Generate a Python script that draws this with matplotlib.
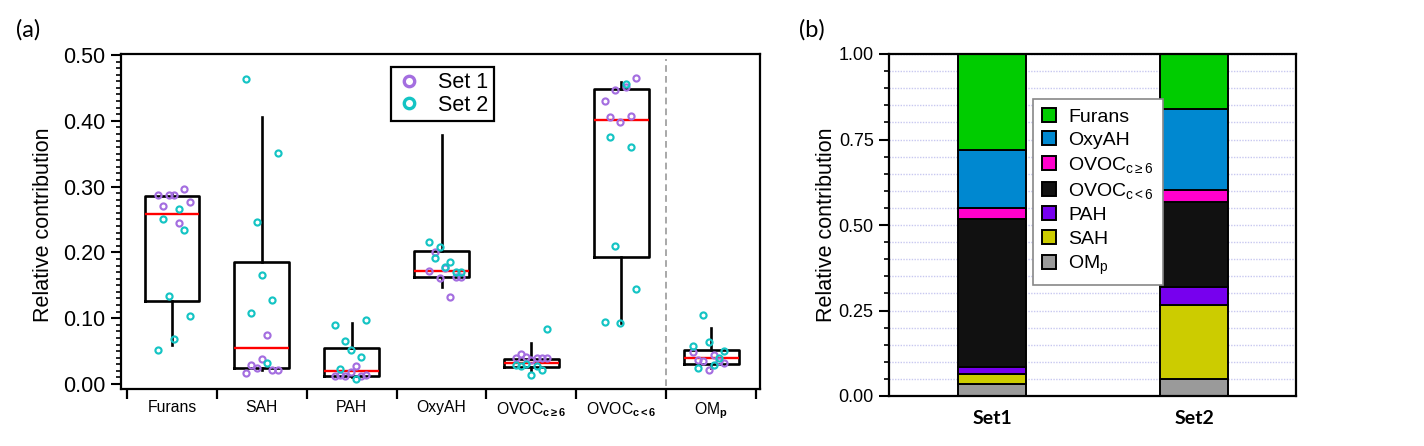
import numpy as np
import matplotlib
matplotlib.use("Agg")
import matplotlib.pyplot as plt
from matplotlib.lines import Line2D
from matplotlib.patches import Patch
from matplotlib import font_manager as fm
from matplotlib.ticker import MultipleLocator, FormatStrFormatter

# ---------------- data: panel (a) ----------------
categories = ['Furans', 'SAH', 'PAH', 'OxyAH', 'OVOC_c>=6', 'OVOC_c<6', 'OMp']
cat_labels = ['Furans', 'SAH', 'PAH', 'OxyAH',
              r'OVOC$_{\mathbf{c\geq6}}$', r'OVOC$_{\mathbf{c<6}}$', r'OM$_{\mathbf{p}}$']

box_q1 = [0.126, 0.0238, 0.0122, 0.1631, 0.0253, 0.1935, 0.0304]
box_median = [0.258, 0.0552, 0.0203, 0.1722, 0.0324, 0.4012, 0.039]
box_q3 = [0.2857, 0.186, 0.0552, 0.2021, 0.038, 0.4483, 0.0517]
whisker_low = [0.060, 0.021, 0.011, 0.148, 0.019, 0.0922, 0.0237]
whisker_high = [0.291, 0.406, 0.092, 0.378, 0.0628, 0.4595, 0.0846]

set1_values = [
    [0.287, 0.271, 0.287, 0.287, 0.244, 0.296, 0.276],
    [0.017, 0.029, 0.024, 0.0375, 0.074, 0.022, 0.022],
    [0.012, 0.014, 0.012, 0.018, 0.027, 0.012, 0.013],
    [0.171, 0.2012, 0.1606, 0.1758, 0.1317, 0.163, 0.163],
    [0.040, 0.0456, 0.041, 0.036, 0.039, 0.040, 0.039],
    [0.4300, 0.4062, 0.4468, 0.3986, 0.452, 0.4077, 0.4655],
    [0.048, 0.036, 0.035, 0.0213, 0.044, 0.035, 0.0314],
]
set2_values = [
    [0.051, 0.250, 0.134, 0.068, 0.266, 0.234, 0.104],
    [0.4635, 0.1084, 0.2457, 0.1657, 0.0314, 0.1277, 0.3506],
    [0.0892, 0.0228, 0.0658, 0.0517, 0.0081, 0.0415, 0.0968],
    [0.2153, 0.1920, 0.2087, 0.178, 0.1849, 0.1697, 0.1697],
    [0.029, 0.028, 0.030, 0.0137, 0.027, 0.0213, 0.0831],
    [0.0942, 0.376, 0.2097, 0.0922, 0.4555, 0.3607, 0.1449],
    [0.0582, 0.0237, 0.1049, 0.0643, 0.0289, 0.040, 0.0506],
]
set_labels = ['Set 1', 'Set 2']

# ---------------- data: panel (b) ----------------
species = ['OMp', 'SAH', 'PAH', 'OVOC_c<6', 'OVOC_c>=6', 'OxyAH', 'Furans']
species_labels = [r'OM$_{\mathrm{p}}$', 'SAH', 'PAH', r'OVOC$_{\mathrm{c<6}}$',
                  r'OVOC$_{\mathrm{c\geq6}}$', 'OxyAH', 'Furans']
bar_sets = ['Set1', 'Set2']
set1_fractions = [0.035, 0.0305, 0.020, 0.4315, 0.034, 0.168, 0.281]
set2_fractions = [0.051, 0.2144, 0.0536, 0.249, 0.034, 0.237, 0.161]

# ---------------- styles ----------------
species_colors = ['#9a9a9a', '#cccc00', '#7700ee', '#111111', '#ff00cc', '#0088d0', '#00cc00']
c_set1 = '#a46ee0'
c_set2 = '#14c4c4'
jitter_slots = np.linspace(-0.175, 0.175, 7)
jitter_shift = [0.022, 0.0, -0.011, 0.039, 0.0, -0.011, -0.028]

avail = {f.name for f in fm.fontManager.ttflist}
base_font = 'Liberation Sans' if 'Liberation Sans' in avail else 'DejaVu Sans'
label_font = 'Lato' if 'Lato' in avail else base_font

plt.rcParams['font.family'] = [base_font, 'DejaVu Sans']
plt.rcParams['mathtext.fontset'] = 'custom'
plt.rcParams['mathtext.rm'] = base_font
plt.rcParams['mathtext.it'] = base_font + ':italic'
plt.rcParams['mathtext.bf'] = base_font + ':bold'

fig = plt.figure(figsize=(14.24, 4.46), dpi=100)
W, H = 1424.0, 446.0
ax1 = fig.add_axes([121 / W, 1 - 389 / H, 639 / W, 335 / H])
ax2 = fig.add_axes([889 / W, 1 - 396 / H, 407 / W, 342 / H])

# ---------------- panel (a) ----------------
xpos = np.arange(len(categories))
stats = []
for i in range(len(categories)):
    stats.append(dict(med=box_median[i], q1=box_q1[i], q3=box_q3[i],
                      whislo=whisker_low[i], whishi=whisker_high[i], fliers=[]))
ax1.bxp(stats, positions=xpos, widths=0.61, showcaps=False, showfliers=False,
        boxprops=dict(color='black', linewidth=1.9),
        whiskerprops=dict(color='black', linewidth=1.9),
        medianprops=dict(color='#ff0000', linewidth=1.7), manage_ticks=False,
        zorder=2)

for i in range(len(categories)):
    xs = xpos[i] + jitter_slots + jitter_shift[i]
    ax1.plot(xs, set1_values[i], 'o', ms=4.4, mfc='none', mec=c_set1, mew=1.55, zorder=3)
for i in range(len(categories)):
    xs = xpos[i] + jitter_slots + jitter_shift[i]
    ax1.plot(xs, set2_values[i], 'o', ms=4.4, mfc='none', mec=c_set2, mew=1.55, zorder=4)

ax1.axvline(5.5, ymin=0.01, ymax=0.985, color='#999999', lw=1.2, ls=(0, (4, 2.5)), zorder=1)

ax1.set_xlim(-0.567, 6.544)
ax1.set_ylim(-0.0076, 0.5015)
ax1.set_xticks(np.arange(-0.5, 7.0, 1.0))
ax1.set_xticklabels([''] * 8)
ax1.set_xticks(xpos, minor=True)
ax1.set_xticklabels(cat_labels, minor=True, fontsize=11.3)
ax1.tick_params(axis='x', which='major', direction='out', length=7, width=1.6)
ax1.tick_params(axis='x', which='minor', length=0, pad=8)
ax1.yaxis.set_major_locator(MultipleLocator(0.1))
ax1.yaxis.set_minor_locator(MultipleLocator(0.01))
ax1.yaxis.set_major_formatter(FormatStrFormatter('%.2f'))
ax1.tick_params(axis='y', which='major', direction='out', length=7, width=1.5,
                labelsize=15.5, pad=4)
ax1.tick_params(axis='y', which='minor', direction='out', length=3.5, width=1.2)
for s in ax1.spines.values():
    s.set_linewidth(1.6)
ax1.set_ylabel('Relative contribution', fontsize=15.5)
ax1.yaxis.set_label_coords(-0.105, 0.491)

h1 = [Line2D([], [], ls='none', marker='o', ms=7.5, mfc='none', mec=c, mew=2.4)
      for c in (c_set1, c_set2)]
leg1 = ax1.legend(h1, set_labels, loc='upper left', bbox_to_anchor=(0.4225, 0.961),
                  fontsize=15.5, frameon=True, fancybox=False, framealpha=1,
                  edgecolor='black', labelspacing=0.05, borderpad=0.25,
                  handletextpad=0.75, handlelength=1.2, borderaxespad=0)
leg1.get_frame().set_linewidth(1.6)

# ---------------- panel (b) ----------------
bx = np.arange(len(bar_sets))
bottoms = np.zeros(len(bar_sets))
for j, sp in enumerate(species):
    vals = np.array([set1_fractions[j], set2_fractions[j]])
    ax2.bar(bx, vals, bottom=bottoms, width=0.336, color=species_colors[j],
            edgecolor='black', linewidth=1.4, zorder=2)
    bottoms = bottoms + vals

ax2.set_xlim(-0.51, 1.505)
ax2.set_ylim(0, 1.0)
ax2.set_xticks(bx)
ax2.set_xticklabels(bar_sets, fontsize=14, fontweight='bold', family=label_font)
ax2.tick_params(axis='x', length=0, pad=10)
ax2.yaxis.set_major_locator(MultipleLocator(0.25))
ax2.yaxis.set_minor_locator(MultipleLocator(0.05))
ax2.yaxis.set_major_formatter(FormatStrFormatter('%.2f'))
ax2.tick_params(axis='y', which='major', direction='out', length=7, width=1.5,
                labelsize=13, pad=4)
ax2.tick_params(axis='y', which='minor', direction='out', length=3.5, width=1.2)
ax2.yaxis.grid(True, which='both', color='#c8c8f0', lw=1.0, ls=(0, (1, 1)))
ax2.set_axisbelow(True)
for s in ax2.spines.values():
    s.set_linewidth(1.6)
ax2.set_ylabel('Relative contribution', fontsize=15.5)
ax2.yaxis.set_label_coords(-0.128, 0.501)

h2 = [Patch(facecolor=species_colors[j], edgecolor='black', linewidth=1.4)
      for j in range(len(species))][::-1]
leg2 = ax2.legend(h2, species_labels[::-1], loc='upper left', bbox_to_anchor=(0.354, 0.868),
                  fontsize=14, frameon=True, fancybox=False,
                  framealpha=1, edgecolor='#888888', labelspacing=0.3, borderpad=0.45,
                  handletextpad=0.6, handlelength=0.75, handleheight=0.7, borderaxespad=0)
leg2.get_frame().set_linewidth(1.2)

fig.text(16 / W, 1 - 30 / H, '(a)', fontsize=17, family=label_font, ha='left', va='center')
fig.text(799 / W, 1 - 30 / H, '(b)', fontsize=17, family=label_font, ha='left', va='center')

fig.savefig('out.png', dpi=100)
